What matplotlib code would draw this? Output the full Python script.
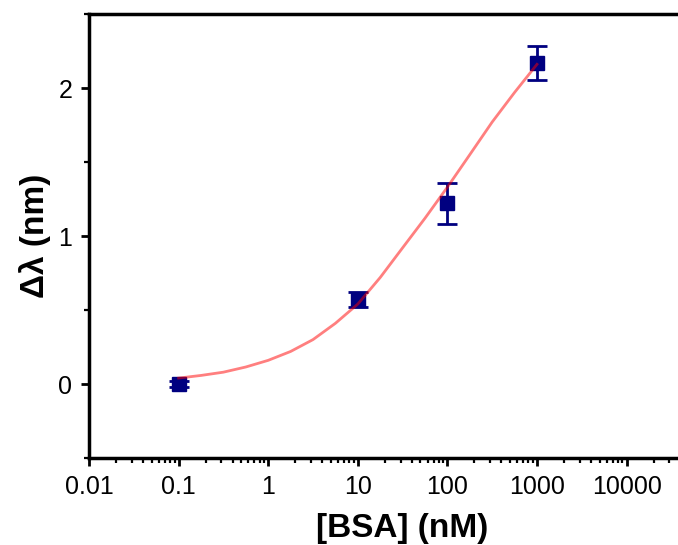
import matplotlib
matplotlib.use("Agg")
import matplotlib.pyplot as plt
import numpy as np
from matplotlib.ticker import LogLocator, FixedLocator, MultipleLocator, NullFormatter

plt.rcParams['font.family'] = ['Liberation Sans', 'DejaVu Sans']

# ── data ─────────────────────────────────────────────────────────────────────
bsa_conc = [0.1, 10, 100, 1000]          # nM
shift = [0.0, 0.57, 1.22, 2.17]          # delta lambda, nm
shift_err = [0.02, 0.05, 0.14, 0.115]

# fitted curve, sampled every quarter decade from the picture
fit_conc = [0.1, 0.178, 0.316, 0.562, 1, 1.78, 3.16, 5.62, 10,
            17.8, 31.6, 56.2, 100, 178, 316, 562, 1000]
fit_shift = [0.04, 0.058, 0.08, 0.115, 0.16, 0.22, 0.30, 0.41, 0.54,
             0.72, 0.92, 1.12, 1.33, 1.55, 1.77, 1.97, 2.16]

xtick_vals = [0.01, 0.1, 1, 10, 100, 1000, 10000]
xtick_labels = ["0.01", "0.1", "1", "10", "100", "1000", "10000"]
ytick_vals = [0, 1, 2]

NAVY = "#000080"

fig = plt.figure(figsize=(6.78, 5.45), dpi=100)
ax = fig.add_axes([0.1313, 0.1596, 0.925, 0.8147])

ax.errorbar(bsa_conc, shift, yerr=shift_err, fmt='s', color=NAVY, ecolor=NAVY,
            markersize=9.5, elinewidth=2, capsize=7, capthick=2, zorder=3)
ax.plot(fit_conc, fit_shift, color='red', alpha=0.5, linewidth=2, zorder=4)

ax.set_xscale('log')
ax.set_xlim(0.01, 1e5)
ax.set_ylim(-0.5, 2.5)

ax.xaxis.set_major_locator(FixedLocator(xtick_vals))
ax.set_xticks(xtick_vals)
ax.set_xticklabels(xtick_labels)
ax.xaxis.set_minor_locator(LogLocator(base=10, subs=np.arange(2, 10), numticks=20))
ax.xaxis.set_minor_formatter(NullFormatter())
ax.set_yticks(ytick_vals)
ax.yaxis.set_minor_locator(MultipleLocator(0.5))

for side in ax.spines.values():
    side.set_linewidth(2.5)

ax.tick_params(which='major', direction='out', length=6, width=2,
               labelsize=18, pad=6)
ax.tick_params(which='minor', direction='out', length=3.5, width=1.6)

ax.set_xlabel('[BSA] (nM)', fontsize=24, fontweight='bold', labelpad=10)
ax.set_ylabel('Δλ (nm)', fontsize=24, fontweight='bold', labelpad=5)

fig.savefig('out.png', dpi=100)
